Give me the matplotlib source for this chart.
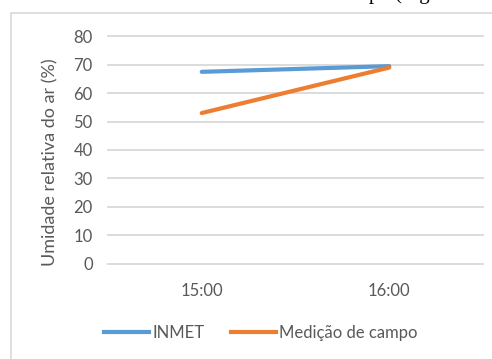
import matplotlib.pyplot as plt
from matplotlib.lines import Line2D
from matplotlib.patches import Rectangle

# Umidade relativa: INMET x medição de campo
horarios = ["15:00", "16:00"]
inmet = [67.5, 69.5]
medicao_campo = [53.0, 69.0]
y_ticks = [0, 10, 20, 30, 40, 50, 60, 70, 80]

azul = "#5b9bd5"
laranja = "#ed7d31"
cinza_texto = "#595959"
cinza_grade = "#d9d9d9"

plt.rcParams["font.family"] = ["Lato", "DejaVu Sans"]

W, H = 492, 359
fig = plt.figure(figsize=(W / 100, H / 100), dpi=100)
fig.patch.set_facecolor("white")

# moldura da área do gráfico (só as bordas esquerda e superior aparecem)
fig.patches.append(Rectangle((11 / W, -0.2), 1.2, 1.2 - 13.3 / H,
                             transform=fig.transFigure, fill=False,
                             edgecolor=cinza_grade, linewidth=1.2))

ax = fig.add_axes([108 / W, 1 - 263.7 / H, 375 / W, 227.4 / H])
x = range(len(horarios))
ax.plot(x, inmet, color=azul, linewidth=3, solid_capstyle="round", label="INMET")
ax.plot(x, medicao_campo, color=laranja, linewidth=3, solid_capstyle="round",
        label="Medição de campo")

ax.set_xlim(-0.5, 1.5)
ax.set_ylim(0, 80)
ax.set_yticks(y_ticks)
ax.set_xticks(list(x))
ax.set_xticklabels(horarios)
for s in ax.spines.values():
    s.set_visible(False)
ax.tick_params(axis="both", length=0, labelsize=12, labelcolor=cinza_texto)
ax.tick_params(axis="y", pad=11)
ax.tick_params(axis="x", pad=14)
ax.yaxis.grid(True, color=cinza_grade, linewidth=1.3)
ax.set_axisbelow(True)
for gl in ax.get_ygridlines():
    gl.set_clip_on(False)

fig.text(50 / W, 1 - 162 / H, "Umidade relativa do ar (%)", rotation=90,
         ha="center", va="center", fontsize=13, color=cinza_texto)

handles = [Line2D([], [], color=azul, linewidth=3),
           Line2D([], [], color=laranja, linewidth=3)]
fig.legend(handles, ["INMET", "Medição de campo"], loc="center",
           bbox_to_anchor=(261 / W, 1 - 333 / H), ncol=2, frameon=False,
           fontsize=12, labelcolor=cinza_texto, handlelength=2.7,
           handletextpad=0.2, columnspacing=1.6)

# trecho do texto do documento logo acima da figura
fig.text(369 / W, 1 + 0.5 / H, "po (Figura", family="Liberation Serif",
         fontsize=15, ha="left", va="baseline", color="black")

fig.savefig("out.png", dpi=100)
